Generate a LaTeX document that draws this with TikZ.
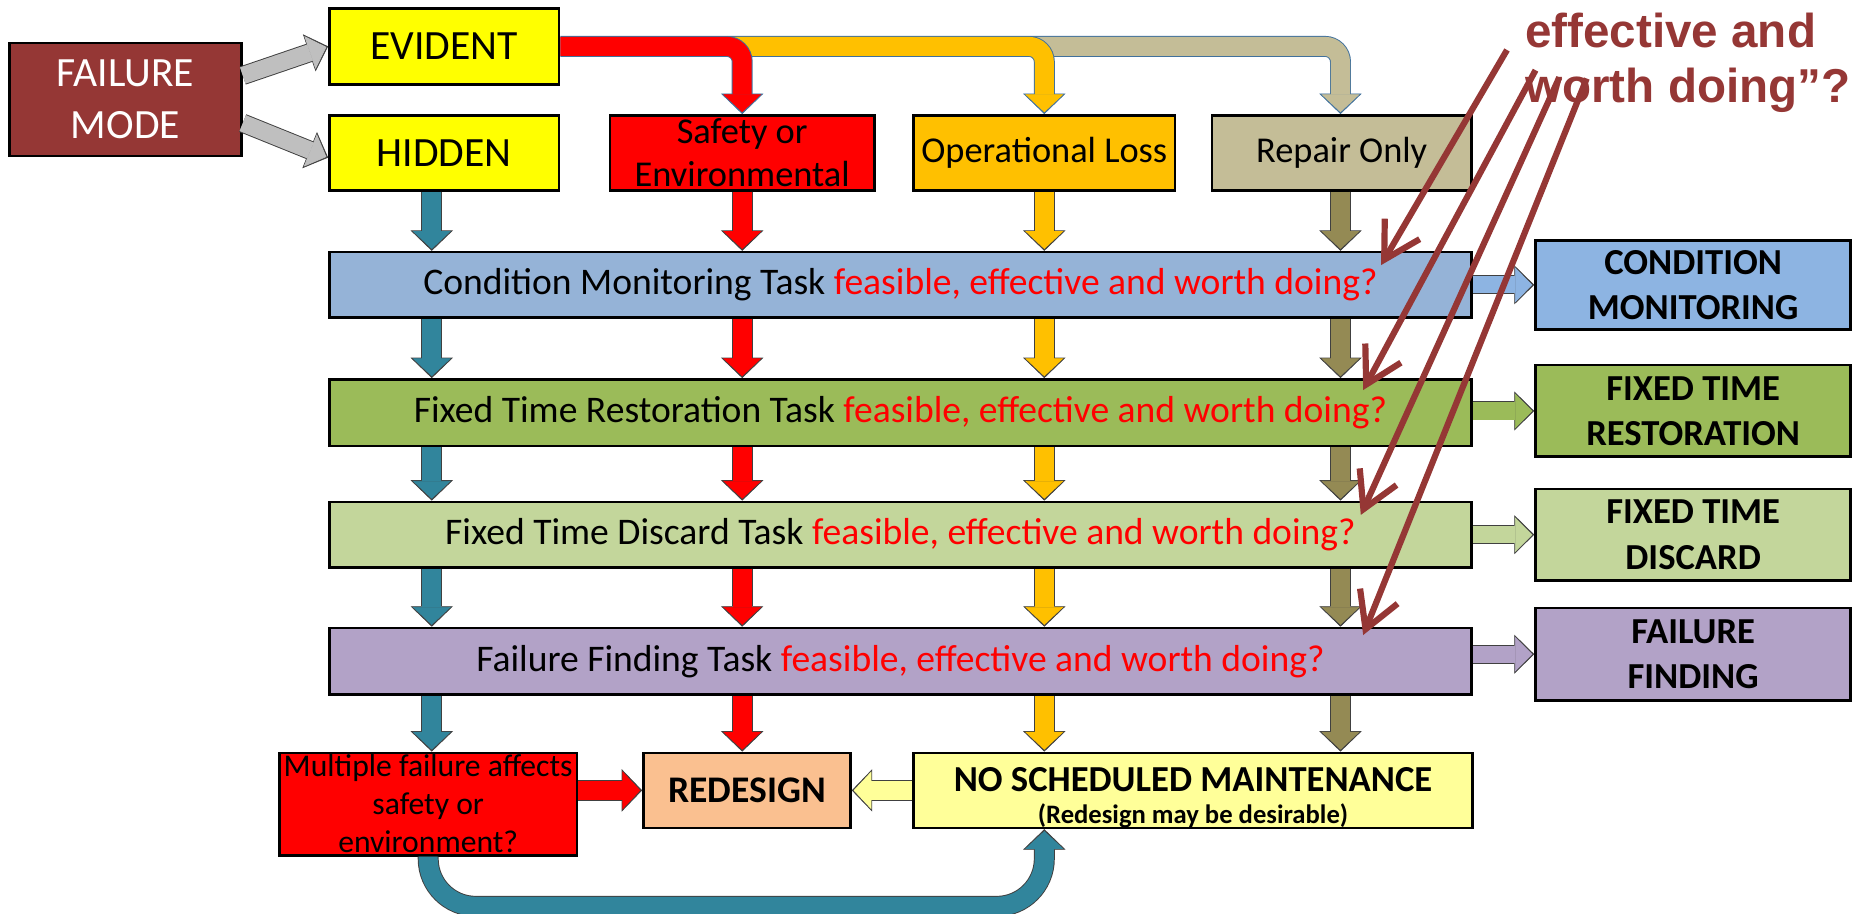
\documentclass[tikz,border=0pt]{standalone}
\usepackage{fontspec}
\setmainfont{Carlito}
\newfontfamily\arialfont{Liberation Sans}
\usepackage{xcolor}
\usepackage{tikz}
\usetikzlibrary{positioning, arrows.meta}

\definecolor{fmred}{HTML}{953735}
\definecolor{yel}{HTML}{FFFF00}
\definecolor{sred}{HTML}{FF0000}
\definecolor{opor}{HTML}{FFC000}
\definecolor{reptan}{HTML}{C4BD97}
\definecolor{cmblue}{HTML}{95B3D7}
\definecolor{cmres}{HTML}{8DB4E2}
\definecolor{frgreen}{HTML}{9BBB59}
\definecolor{fdgreen}{HTML}{C3D69B}
\definecolor{ffpurple}{HTML}{B2A2C7}
\definecolor{rdorange}{HTML}{FAC090}
\definecolor{nsmyellow}{HTML}{FFFF99}
\definecolor{tealarrow}{HTML}{31859C}
\definecolor{olivearrow}{HTML}{948A54}
\definecolor{grayarrow}{HTML}{BFBFBF}
\definecolor{bandedge}{HTML}{41719C}
\definecolor{arrowedge}{HTML}{404040}

% block arrow: [options]{kind}{fill}{edge}{path}
\newcommand\blockarrow[5][]{%
  \draw[#1, #2edge, draw=#4] #5;
  \draw[#1, #2, draw=#3, shorten >=0.8pt] #5;}

\begin{document}
\begin{tikzpicture}[x=0.5pt, y=-0.5pt,
    box/.style={draw, line width=1.1pt, rectangle, align=center, inner sep=0pt},
    bigtext/.style={font=\fontsize{17.5}{22}\selectfont},
    midtext/.style={font=\fontsize{15.3}{18}\selectfont},
    tasktext/.style={font=\fontsize{15.8}{18}\selectfont},
    restext/.style={font=\fontsize{15.4}{19}\selectfont\bfseries},
    fat/.style={line width=8pt, -{Triangle[length=7.5pt, width=16pt, line width=0.3pt]}},
    fatedge/.style={line width=8.8pt, -{Triangle[length=8.6pt, width=17.8pt, line width=0.3pt]}},
    slim/.style={line width=7.2pt, -{Triangle[length=7.3pt, width=14.6pt, line width=0.3pt]}},
    slimedge/.style={line width=8pt, -{Triangle[length=8.4pt, width=16.4pt, line width=0.3pt]}},
    pointer/.style={draw=fmred, line width=2.6pt, -{Straight Barb[length=15pt, width=17pt]}}]
    \useasboundingbox (0,0) rectangle (1568,768);

    % Nodes
    \node[box, fill=fmred, text=white, bigtext, minimum width=97.5pt, minimum height=47.5pt] (fm) at (105.5,83.5) {FAILURE\\MODE};
    \node[box, fill=yel, bigtext, minimum width=96.5pt, minimum height=32pt] (evident) at (373.5,39) {EVIDENT};
    \node[box, fill=yel, bigtext, minimum width=96.5pt, minimum height=31.5pt] (hidden) at (373.5,128.5) {HIDDEN};
    \node[box, fill=sred, midtext, minimum width=111pt, minimum height=31.5pt] (safety) at (624,128.5)
        {\parbox[c][31.5pt][c]{111pt}{\centering Safety or\\Environmental}};
    \node[box, fill=opor, midtext, minimum width=110pt, minimum height=31.5pt] (oploss) at (878,128.5) {Operational Loss};
    \node[box, fill=reptan, midtext, minimum width=109pt, minimum height=31.5pt] (repair) at (1128,128.5) {Repair Only};

    \node[box, fill=cmblue, tasktext, minimum width=480pt, minimum height=27.5pt] (cmtask) at (757,239.5)
        {Condition Monitoring Task \textcolor{sred}{feasible, effective and worth doing?}};
    \node[box, fill=frgreen, tasktext, minimum width=480pt, minimum height=28pt] (frtask) at (757,347)
        {Fixed Time Restoration Task \textcolor{sred}{feasible, effective and worth doing?}};
    \node[box, fill=fdgreen, tasktext, minimum width=480pt, minimum height=27.5pt] (fdtask) at (757,449.5)
        {Fixed Time Discard Task \textcolor{sred}{feasible, effective and worth doing?}};
    \node[box, fill=ffpurple, tasktext, minimum width=480pt, minimum height=28pt] (fftask) at (757,556)
        {Failure Finding Task \textcolor{sred}{feasible, effective and worth doing?}};

    \node[box, fill=cmres, restext, minimum width=132.5pt, minimum height=37.5pt] (cmres) at (1423.5,239.5) {CONDITION\\MONITORING};
    \node[box, fill=frgreen, restext, minimum width=132.5pt, minimum height=38.5pt] (frres) at (1423.5,345.5) {FIXED TIME\\RESTORATION};
    \node[box, fill=fdgreen, restext, minimum width=132.5pt, minimum height=38.5pt] (fdres) at (1423.5,449.5) {FIXED TIME\\DISCARD};
    \node[box, fill=ffpurple, restext, minimum width=132.5pt, minimum height=39pt] (ffres) at (1423.5,550) {FAILURE\\FINDING};

    \node[box, fill=sred, font=\fontsize{13.3}{16}\selectfont, minimum width=125pt, minimum height=43pt] (multi) at (360,676)
        {\parbox[c][43pt][c]{125pt}{\centering Multiple failure affects\\safety or\\environment?}};
    \node[box, fill=rdorange, font=\fontsize{15.8}{18}\selectfont\bfseries, minimum width=87pt, minimum height=31.5pt] (redesign) at (628,664.5) {REDESIGN};
    \node[box, fill=nsmyellow, font=\fontsize{15.4}{17}\selectfont\bfseries, minimum width=235pt, minimum height=31.5pt] (nsm) at (1003,664.5)
        {\parbox[c][31.5pt][c]{235pt}{\centering\vspace*{6.5pt}NO SCHEDULED MAINTENANCE\\[-3.5pt]{\fontsize{11.2}{13}\selectfont (Redesign may be desirable)}}};

    \node[anchor=west, align=left, inner sep=0pt, text=fmred, font=\arialfont\bfseries\fontsize{20}{23}\selectfont] (title) at (1282,53)
        {effective and\\worth doing”?};

    % Arrows
    \coordinate (c1) at (363,0);
    \coordinate (c2) at (624,0);
    \coordinate (c3) at (878,0);
    \coordinate (c4) at (1127,0);
    \coordinate (b2) at (612,39);
    \coordinate (b3) at (866,39);
    \coordinate (low) at (878,762);

    \blockarrow{slim}{grayarrow}{arrowedge}{([yshift=10pt]fm.east) -- (evident.west)}
    \blockarrow{slim}{grayarrow}{arrowedge}{([yshift=-10pt]fm.east) -- ([yshift=-2pt]hidden.west)}

    \blockarrow[rounded corners=6.5pt]{fat}{reptan}{bandedge}{(b3) -| (repair.north -| c4)}
    \blockarrow[rounded corners=6.5pt]{fat}{opor}{bandedge}{(b2) -| (oploss.north -| c3)}
    \blockarrow[rounded corners=6.5pt]{fat}{sred}{bandedge}{(evident.east) -| (safety.north -| c2)}

    \blockarrow{fat}{tealarrow}{arrowedge}{(hidden.south -| c1) -- (cmtask.north -| c1)}
    \blockarrow{fat}{sred}{arrowedge}{(safety.south -| c2) -- (cmtask.north -| c2)}
    \blockarrow{fat}{opor}{arrowedge}{(oploss.south -| c3) -- (cmtask.north -| c3)}
    \blockarrow{fat}{olivearrow}{arrowedge}{(repair.south -| c4) -- (cmtask.north -| c4)}

    \blockarrow{fat}{tealarrow}{arrowedge}{(cmtask.south -| c1) -- (frtask.north -| c1)}
    \blockarrow{fat}{sred}{arrowedge}{(cmtask.south -| c2) -- (frtask.north -| c2)}
    \blockarrow{fat}{opor}{arrowedge}{(cmtask.south -| c3) -- (frtask.north -| c3)}
    \blockarrow{fat}{olivearrow}{arrowedge}{(cmtask.south -| c4) -- (frtask.north -| c4)}

    \blockarrow{fat}{tealarrow}{arrowedge}{(frtask.south -| c1) -- (fdtask.north -| c1)}
    \blockarrow{fat}{sred}{arrowedge}{(frtask.south -| c2) -- (fdtask.north -| c2)}
    \blockarrow{fat}{opor}{arrowedge}{(frtask.south -| c3) -- (fdtask.north -| c3)}
    \blockarrow{fat}{olivearrow}{arrowedge}{(frtask.south -| c4) -- (fdtask.north -| c4)}

    \blockarrow{fat}{tealarrow}{arrowedge}{(fdtask.south -| c1) -- (fftask.north -| c1)}
    \blockarrow{fat}{sred}{arrowedge}{(fdtask.south -| c2) -- (fftask.north -| c2)}
    \blockarrow{fat}{opor}{arrowedge}{(fdtask.south -| c3) -- (fftask.north -| c3)}
    \blockarrow{fat}{olivearrow}{arrowedge}{(fdtask.south -| c4) -- (fftask.north -| c4)}

    \blockarrow{fat}{tealarrow}{arrowedge}{(fftask.south -| c1) -- (multi.north -| c1)}
    \blockarrow{fat}{sred}{arrowedge}{(fftask.south -| c2) -- (redesign.north -| c2)}
    \blockarrow{fat}{opor}{arrowedge}{(fftask.south -| c3) -- (nsm.north -| c3)}
    \blockarrow{fat}{olivearrow}{arrowedge}{(fftask.south -| c4) -- (nsm.north -| c4)}

    \blockarrow{slim}{cmres}{arrowedge}{(cmtask.east |- cmres.west) -- (cmres.west)}
    \blockarrow{slim}{frgreen}{arrowedge}{(frtask.east |- frres.west) -- (frres.west)}
    \blockarrow{slim}{fdgreen}{arrowedge}{(fdtask.east |- fdres.west) -- (fdres.west)}
    \blockarrow{slim}{ffpurple}{arrowedge}{(fftask.east |- ffres.west) -- (ffres.west)}

    \blockarrow{fat}{sred}{arrowedge}{(multi.east |- redesign.west) -- (redesign.west)}
    \blockarrow{fat}{nsmyellow}{arrowedge}{(nsm.west) -- (redesign.east)}
    \blockarrow[rounded corners=20pt]{fat}{tealarrow}{arrowedge}{(multi.south) |- (low) -- (nsm.south -| low)}

    \coordinate (p1) at (1267,42);
    \coordinate (p2) at (1291,59);
    \coordinate (p3) at (1311,65);
    \coordinate (p4) at (1334,66);
    \draw[pointer] (p1) -- ([xshift=-38.5pt,yshift=-6pt]cmtask.north east);
    \draw[pointer] (p2) -- ([xshift=-46pt,yshift=-5pt]frtask.north east);
    \draw[pointer] (p3) -- ([xshift=-47pt,yshift=-6pt]fdtask.north east);
    \draw[pointer] (p4) -- ([xshift=-46pt,yshift=-3.5pt]fftask.north east);
\end{tikzpicture}
\end{document}
